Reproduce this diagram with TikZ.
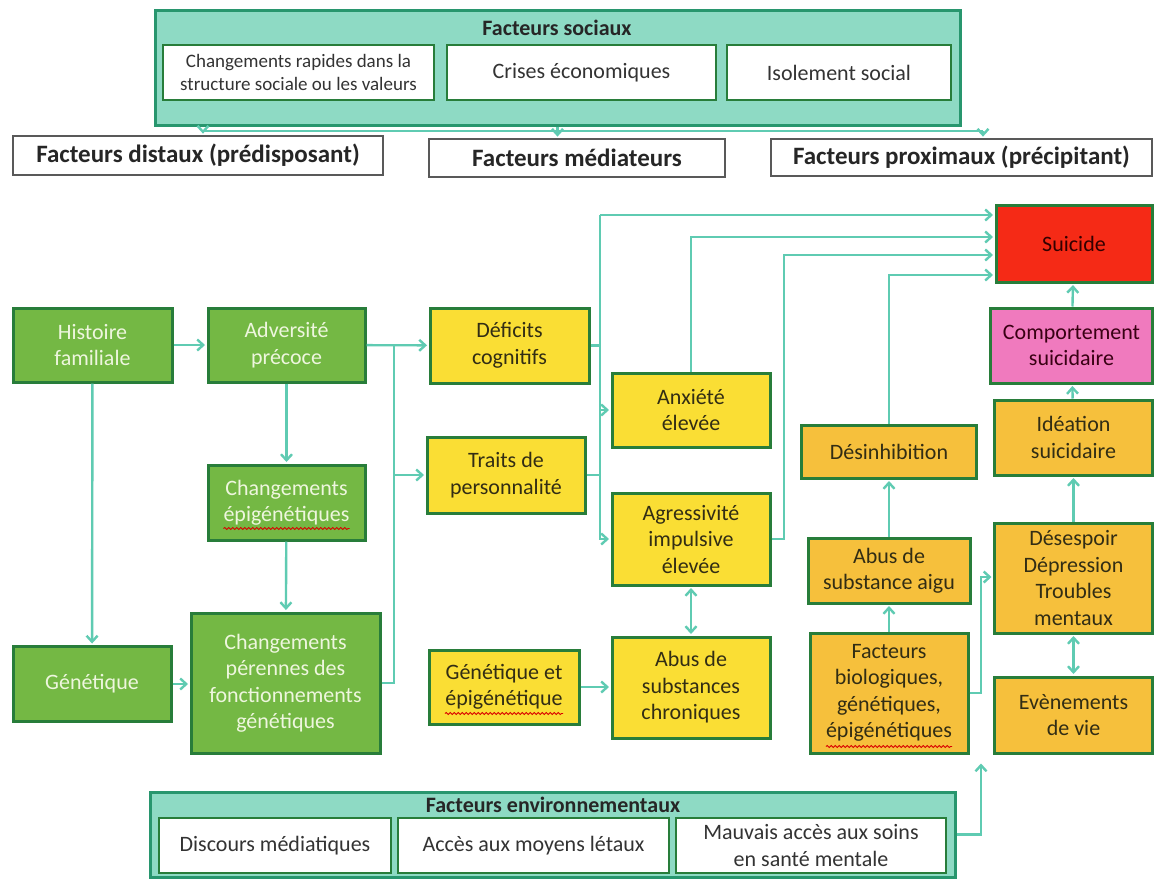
\documentclass[tikz,border=0pt]{standalone}
\usepackage{fontspec}
\setmainfont{Carlito}
\usepackage{tikz}
\usetikzlibrary{arrows.meta,decorations.pathmorphing}
\definecolor{linkteal}{RGB}{95,203,178}
\definecolor{boxgreen}{RGB}{116,184,68}
\definecolor{edgegreen}{RGB}{40,125,58}
\definecolor{boxyellow}{RGB}{250,222,52}
\definecolor{boxorange}{RGB}{246,192,60}
\definecolor{boxred}{RGB}{245,42,22}
\definecolor{boxpink}{RGB}{240,122,190}
\definecolor{panelteal}{RGB}{142,218,196}
\definecolor{paneledge}{RGB}{40,150,110}
\definecolor{textdark}{RGB}{50,45,20}
\definecolor{textpale}{RGB}{238,246,222}

\begin{document}
\begin{tikzpicture}[x=1pt, y=-1pt, >={Straight Barb[length=6pt,width=11pt]},
  cell/.style={rectangle, draw=edgegreen, line width=3pt, inner sep=0pt, align=center, text=textdark, font=\fontsize{22}{26.5}\selectfont},
  greenbox/.style={cell, fill=boxgreen, text=textpale},
  yellowbox/.style={cell, fill=boxyellow},
  orangebox/.style={cell, fill=boxorange},
  panel/.style={rectangle, draw=paneledge, fill=panelteal, line width=3pt, inner sep=0pt},
  panelitem/.style={cell, fill=white, line width=2.5pt, text=black!80},
  paneltitle/.style={inner sep=0pt, text=black!85, font=\bfseries\fontsize{22}{26}\selectfont},
  stage/.style={rectangle, draw=black!65, fill=white, line width=1.8pt, inner sep=0pt, text=black!85, font=\bfseries\fontsize{25}{30}\selectfont},
  link/.style={draw=linkteal, line width=2.4pt},
  squiggle/.style={draw=red!85!black, line width=0.9pt, decorate, decoration={snake, segment length=4pt, amplitude=1pt}}]

   \useasboundingbox[fill=white] (0,0) rectangle (1163,879);

   % social factors panel
   \node[panel, minimum width=805pt, minimum height=115pt] (soc) at (557.5,67.5) {};
   \node[paneltitle] (soctitle) at (557,28) {Facteurs sociaux};
   \node[panelitem, minimum width=271pt, minimum height=55pt, font=\fontsize{19}{23}\selectfont] (soc1) at (298.5,72.5) {Changements rapides dans la\\structure sociale ou les valeurs};
   \node[panelitem, minimum width=269pt, minimum height=55pt] (soc2) at (581.5,72.5) {Crises économiques};
   \node[panelitem, minimum width=224pt, minimum height=55pt] (soc3) at (839,72.5) {Isolement social};

   % stages
   \node[stage, minimum width=370pt, minimum height=39pt] (dist) at (198,155.5) {Facteurs distaux (prédisposant)};
   \node[stage, minimum width=296pt, minimum height=38pt] (med) at (577,158) {Facteurs médiateurs};
   \node[stage, minimum width=381pt, minimum height=37pt] (prox) at (961.5,157.5) {Facteurs proximaux (précipitant)};

   % distal
   \begin{scope}[every node/.style={greenbox}]
    \node[minimum width=159pt, minimum height=74pt] (hist) at (92.5,345) {Histoire\\familiale};
    \node[minimum width=157pt, minimum height=74pt] (advers) at (286.5,345) {Adversité\\précoce};
    \node[minimum width=157pt, minimum height=75pt] (epig) at (286.5,502.5) {Changements\\épigénétiques};
    \node[minimum width=158pt, minimum height=75pt] (gene) at (92,684) {Génétique};
    \node[minimum width=189pt, minimum height=140pt] (peren) at (285.5,683) {Changements\\pérennes des\\fonctionnements\\génétiques};
   \end{scope}

   % mediating
   \begin{scope}[every node/.style={yellowbox}]
    \node[minimum width=159pt, minimum height=75pt] (deficits) at (509.5,345.5) {Déficits\\cognitifs};
    \node[minimum width=158pt, minimum height=76pt] (traits) at (506,475) {Traits de\\personnalité};
    \node[minimum width=150pt, minimum height=74pt] (genepi) at (504,687) {Génétique et\\épigénétique};
    \node[minimum width=158pt, minimum height=74pt] (anx) at (691,410) {Anxiété\\élevée};
    \node[minimum width=158pt, minimum height=92pt] (aggr) at (691,539) {Agressivité\\impulsive\\élevée};
    \node[minimum width=158pt, minimum height=101pt] (abusc) at (691,687.5) {Abus de\\substances\\chroniques};
   \end{scope}

   % proximal
   \begin{scope}[every node/.style={orangebox}]
    \node[minimum width=175pt, minimum height=53pt] (desinh) at (889,451.5) {Désinhibition};
    \node[minimum width=162pt, minimum height=65pt] (aigu) at (889,570.5) {Abus de\\substance aigu};
    \node[minimum width=158pt, minimum height=120pt] (bio) at (889,693) {Facteurs\\biologiques,\\génétiques,\\épigénétiques};
    \node[minimum width=158pt, minimum height=75pt] (ideation) at (1073.5,437.5) {Idéation\\suicidaire};
    \node[minimum width=158pt, minimum height=110pt] (desesp) at (1073.5,578) {Désespoir\\Dépression\\Troubles\\mentaux};
    \node[minimum width=158pt, minimum height=76pt] (evene) at (1073.5,715) {Evènements\\de vie};
    \node[fill=boxpink, text=black!70!purple, minimum width=162pt, minimum height=75pt] (comport) at (1071.5,345.5) {Comportement\\suicidaire};
    \node[fill=boxred, text=black!80!red, minimum width=156pt, minimum height=77pt] (suicide) at (1074,243.5) {Suicide};
   \end{scope}

   % spelling marks
   \draw[squiggle] ([xshift=-63pt,yshift=13pt]epig.south) -- ([xshift=63pt,yshift=13pt]epig.south);
   \draw[squiggle] ([xshift=-59pt,yshift=12pt]genepi.south) -- ([xshift=59pt,yshift=12pt]genepi.south);
   \draw[squiggle] ([xshift=-63pt,yshift=8pt]bio.south) -- ([xshift=63pt,yshift=8pt]bio.south);

   % environmental factors panel
   \node[panel, minimum width=805pt, minimum height=85pt] (env) at (552.5,834.5) {};
   \node[paneltitle] (envtitle) at (553,805) {Facteurs environnementaux};
   \node[panelitem, minimum width=232pt, minimum height=55pt] (disc) at (275,845.5) {Discours médiatiques};
   \node[panelitem, minimum width=271pt, minimum height=55pt] (acces) at (533.5,845.5) {Accès aux moyens létaux};
   \node[panelitem, minimum width=270pt, minimum height=55pt] (mauv) at (811,845.5) {Mauvais accès aux soins\\en santé mentale};

   % junctions
   \coordinate (sd) at (203,131);
   \coordinate (sp) at (983,131);
   \coordinate (b1) at (394,345);
   \coordinate (b2) at (600,215);
   \coordinate (b3) at (784,255);
   \coordinate (b4) at (981,577);
   \coordinate (envtip) at (981,762);

   \begin{scope}[link]
    \draw (sd) -- (sp);
    \draw (deficits.east) -- (deficits.east -| b2);
    \draw (traits.east) -- (traits.east -| b2);
    \draw (peren.east) -| (b1);
   \end{scope}

   \begin{scope}[link, ->, shorten >=1.5pt]
    \draw (soc.south) -- (soc.south |- med.north);
    \draw (sd) -- (sd |- dist.north);
    \draw (sp) -- (sp |- prox.north);
    \draw (hist) -- (advers);
    \draw (hist) -- (gene);
    \draw (advers) -- (epig);
    \draw (epig) -- (peren);
    \draw (gene.east) -- (gene.east -| peren.west);
    \draw (advers) -- (deficits);
    \draw (b1 |- traits) -- (traits);
    \draw (b2) -- (b2 -| suicide.west);
    \draw (b2) |- (aggr.west);
    \draw (b2 |- anx) -- (anx);
    \draw (anx.north) |- ([yshift=6.5pt]suicide.west);
    \draw (aggr.east) -| (b3) -- (b3 -| suicide.west);
    \draw (desinh.north) |- ([yshift=-31.5pt]suicide.west);
    \draw (genepi.east) -- (genepi.east -| abusc.west);
    \draw[<->, shorten <=1.5pt] (aggr) -- (abusc);
    \draw (bio) -- (aigu);
    \draw (aigu) -- (desinh);
    \draw (bio.east) -| (b4) -- (b4 -| desesp.west);
    \draw (env.east) -| (envtip);
    \draw[<->, shorten <=1.5pt] (evene) -- (desesp);
    \draw (desesp) -- (ideation);
    \draw (ideation) -- (comport);
    \draw (comport) -- (suicide);
   \end{scope}
\end{tikzpicture}
\end{document}
